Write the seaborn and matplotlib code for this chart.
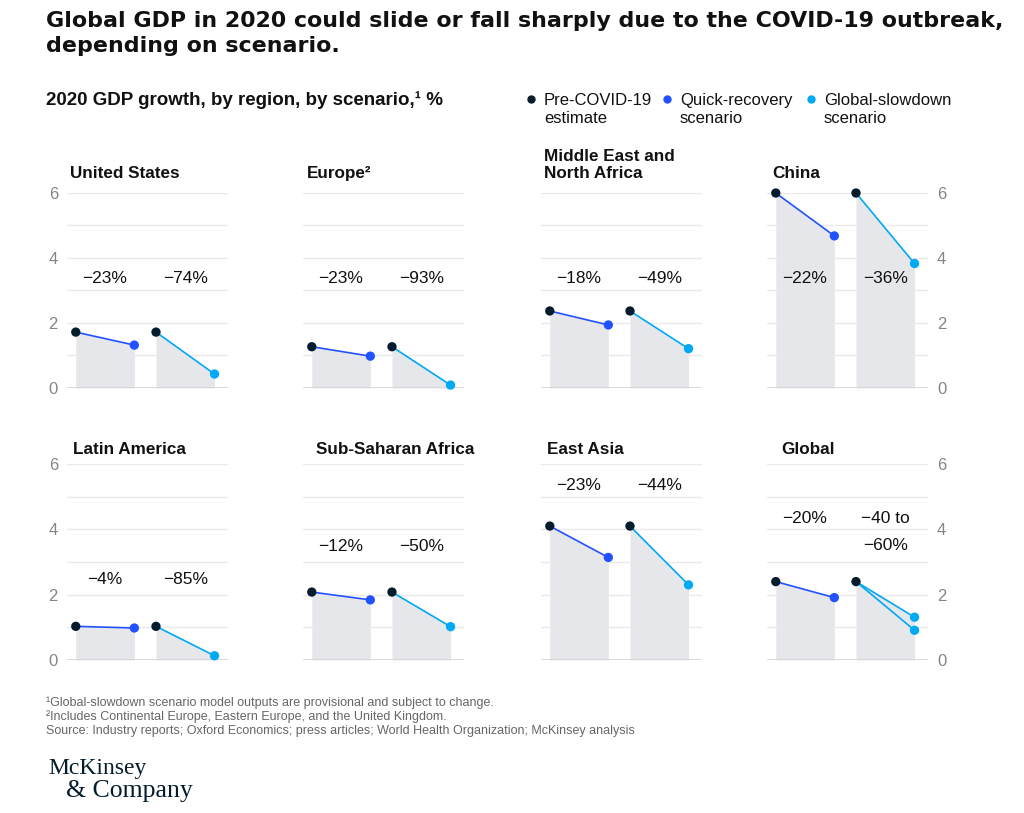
import numpy as np
import pandas as pd
import matplotlib.pyplot as plt
from matplotlib.lines import Line2D
import seaborn as sns

# Data, % GDP growth in 2020
regions = ["United States", "Europe²", "Middle East and\nNorth Africa", "China",
           "Latin America", "Sub-Saharan Africa", "East Asia", "Global"]
pre_covid = [1.72, 1.27, 2.37, 6.00, 1.03, 2.08, 4.10, 2.40]
quick_recovery = [1.32, 0.98, 1.94, 4.68, 0.98, 1.84, 3.14, 1.91]
global_slowdown = [0.43, 0.09, 1.21, 3.83, 0.13, 1.02, 2.30, 1.31]
# second slowdown estimate (only Global has a range)
global_slowdown_low = [np.nan, np.nan, np.nan, np.nan, np.nan, np.nan, np.nan, 0.91]

quick_labels = ["−23%", "−23%", "−18%", "−22%", "−4%", "−12%", "−23%", "−20%"]
slowdown_labels = ["−74%", "−93%", "−49%", "−36%", "−85%", "−50%", "−44%", "−40 to\n−60%"]
label_heights = [3.38, 3.38, 3.38, 3.38, 2.45, 3.46, 5.35, 4.34]

y_ticks = [0, 2, 4, 6]
legend_labels = ["Pre-COVID-19\nestimate", "Quick-recovery\nscenario", "Global-slowdown\nscenario"]
footnotes = [
    "¹Global-slowdown scenario model outputs are provisional and subject to change.",
    "²Includes Continental Europe, Eastern Europe, and the United Kingdom.",
    "Source: Industry reports; Oxford Economics; press articles; World Health Organization; McKinsey analysis",
]

# Styling
NAVY = "#051C2C"
BLUE = "#2251FF"
CYAN = "#00A9F4"
FILL = "#E6E7EA"
GRID = "#EAEAEA"
TEXT = "#111111"
palette = {"pre": NAVY, "quick": BLUE, "slow": CYAN}

sns.set_theme(style="white")
plt.rcParams["font.family"] = ["Liberation Sans", "DejaVu Sans"]

W, H = 1024, 813
fig = plt.figure(figsize=(W / 100, H / 100), dpi=100)

col_left = [67, 303, 541, 767]
row_top = [193, 464]
row_bottom = [388, 660]
panel_w = 161
title_offset = [3, 4, 3, 5, 6, 13, 6, 14]
title_gap = [15, 10]

x_quick = [0, 1]
x_slow = [1.37, 2.37]

for i, region in enumerate(regions):
    r, c = divmod(i, 4)
    ax = fig.add_axes([col_left[c] / W, 1 - row_bottom[r] / H,
                       panel_w / W, (row_bottom[r] - row_top[r]) / H])
    ax.set_xlim(-0.15, 2.6)
    ax.set_ylim(0, 6)
    ax.set_axisbelow("line")

    pre, q, s, s_low = pre_covid[i], quick_recovery[i], global_slowdown[i], global_slowdown_low[i]

    # shaded areas
    ax.fill_between(x_quick, 0, [pre, q], color=FILL, lw=0, zorder=1)
    ax.fill_between(x_slow, 0, [pre, s], color=FILL, lw=0, zorder=1)

    # connecting lines
    sns.lineplot(x=x_quick, y=[pre, q], color=BLUE, lw=1.2, ax=ax, zorder=3)
    sns.lineplot(x=x_slow, y=[pre, s], color=CYAN, lw=1.2, ax=ax, zorder=3)
    if not np.isnan(s_low):
        sns.lineplot(x=x_slow, y=[pre, s_low], color=CYAN, lw=1.2, ax=ax, zorder=3)

    pts = pd.DataFrame({
        "x": [x_quick[0], x_quick[1], x_slow[0], x_slow[1], x_slow[1]],
        "y": [pre, q, pre, s, s_low],
        "kind": ["pre", "quick", "pre", "slow", "slow"],
    }).dropna()
    sns.scatterplot(data=pts, x="x", y="y", hue="kind", palette=palette, s=45,
                    edgecolor="none", legend=False, ax=ax, zorder=5, clip_on=False)

    # percent labels
    ax.annotate(quick_labels[i], (np.mean(x_quick), label_heights[i]), xytext=(0, 5.5),
                textcoords="offset points", ha="center", va="top", fontsize=12.5,
                color=TEXT, linespacing=2.0)
    ax.annotate(slowdown_labels[i], (np.mean(x_slow), label_heights[i]), xytext=(0, 5.5),
                textcoords="offset points", ha="center", va="top", fontsize=12.5,
                color=TEXT, linespacing=2.0)

    # panel title
    ax.annotate(region, (0, 1), xycoords="axes fraction",
                xytext=(title_offset[i] * 0.72, title_gap[r] * 0.72), textcoords="offset points",
                ha="left", va="baseline", fontsize=12.3, fontweight="bold", color=TEXT,
                linespacing=1.2)

    # axes cosmetics
    ax.set_yticks(range(7))
    ax.set_yticklabels([str(t) if t in y_ticks else "" for t in range(7)])
    ax.grid(axis="y", color=GRID, lw=1)
    ax.grid(axis="x", visible=False)
    ax.axhline(0, color="#D6D6D6", lw=1.3, zorder=2)
    ax.set_xticks([np.mean([x_quick[1], x_slow[0]])])
    ax.set_xticklabels([])
    ax.tick_params(axis="x", direction="in", length=4, width=1, color="#D6D6D6")
    ax.tick_params(axis="y", length=0, labelsize=12, labelcolor="#858585", pad=6.5)
    if c == 3:
        ax.yaxis.tick_right()
    elif c != 0:
        ax.set_yticklabels([])
    for sp in ax.spines.values():
        sp.set_visible(False)
    ax.set_xlabel("")
    ax.set_ylabel("")

# Headline and subtitle
title_font = ["DejaVu Sans", "Liberation Sans"]
fig.text(46 / W, 1 - 27 / H, "Global GDP in 2020 could slide or fall sharply due to the COVID-19 outbreak,",
         fontsize=15.9, fontweight="bold", color=TEXT, va="baseline", family=title_font)
fig.text(46 / W, 1 - 52 / H, "depending on scenario.",
         fontsize=15.9, fontweight="bold", color=TEXT, va="baseline", family=title_font)
fig.text(46 / W, 1 - 105 / H, "2020 GDP growth, by region, by scenario,¹ %",
         fontsize=13.5, fontweight="bold", color=TEXT, va="baseline")

# Legend
for x, col, lab in zip([531, 667, 811], [NAVY, BLUE, CYAN], legend_labels):
    fig.add_artist(Line2D([x / W], [1 - 99 / H], marker="o", ms=5, color=col,
                          transform=fig.transFigure, lw=0))
    line1, line2 = lab.split("\n")
    fig.text((x + 13) / W, 1 - 105 / H, line1, fontsize=12, color=TEXT, va="baseline")
    fig.text((x + 13) / W, 1 - 123 / H, line2, fontsize=12, color=TEXT, va="baseline")

# Footnotes
for k, note in enumerate(footnotes):
    fig.text(46 / W, 1 - (706 + 14 * k) / H, note, fontsize=9, color="#666666", va="baseline")

# Logo
fig.text(48 / W, 1 - 774 / H, "McKinsey", fontsize=17, color=NAVY, va="baseline",
         family=["Liberation Serif", "DejaVu Serif"])
fig.text(66 / W, 1 - 797 / H, "& Company", fontsize=18.5, color=NAVY, va="baseline",
         family=["Liberation Serif", "DejaVu Serif"])

fig.savefig("out.png", dpi=100, facecolor="white")
